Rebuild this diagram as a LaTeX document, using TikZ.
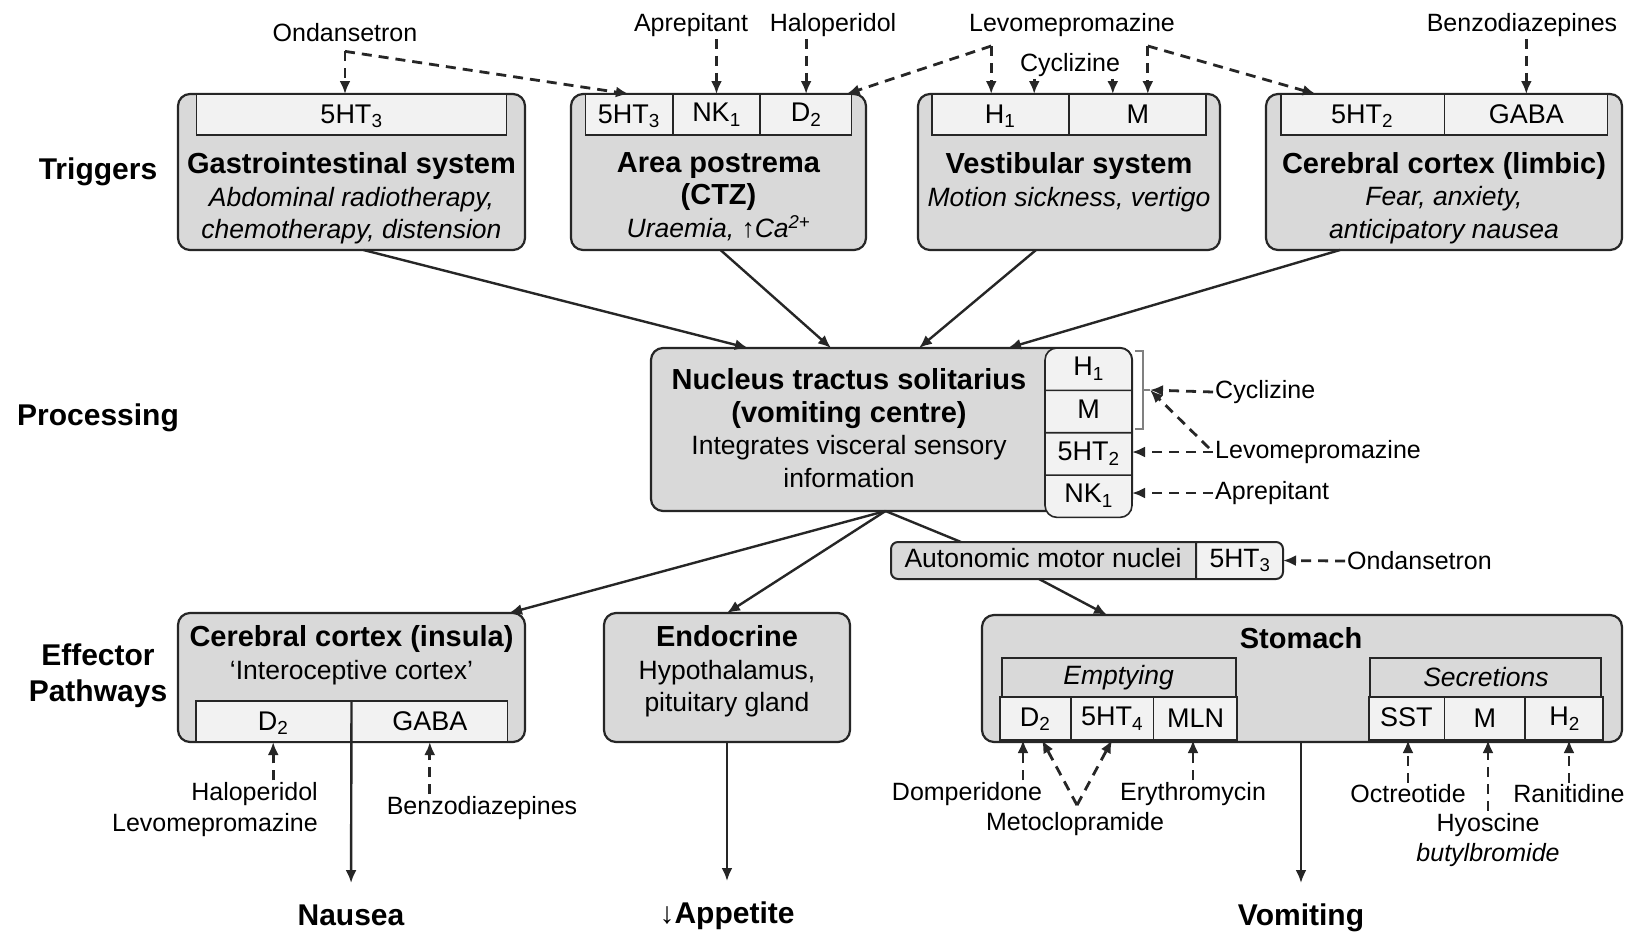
\documentclass[tikz,border=0pt]{standalone}
\usepackage{fontspec}
\setmainfont{Liberation Sans}
\usetikzlibrary{shapes,positioning,calc,arrows.meta}
\colorlet{boxgray}{gray!30}
\colorlet{cellgray}{gray!10}
\newcommand{\ttlfont}{\fontsize{29}{32.5}\selectfont\bfseries}
\newcommand{\txtfont}{\fontsize{26.5}{32.5}\selectfont}
\newcommand{\recfont}{\fontsize{27}{32}\selectfont}
\newcommand{\drgfont}{\fontsize{25}{30.5}\selectfont}
\newcommand{\catfont}{\fontsize{30}{36}\selectfont\bfseries}
\newcommand{\cellbox}[2]{\makebox[#1pt]{#2}}
\newcommand{\rowstrut}{\rule[-13.75pt]{0pt}{40.75pt}}

\begin{document}
\begin{tikzpicture}
  [x=1pt, y=-1pt,
   >={Latex[length=13pt,width=11pt]},
   box/.style={
     draw=black!85,
     line width=2.2pt,
     fill=boxgray,
     rounded corners=12pt,
     inner sep=0pt,
     outer sep=0pt
     },
   relation/.style={
     rectangle split,
     rectangle split parts=#1,
     rectangle split horizontal,
     draw=black!85,
     line width=1.6pt,
     fill=cellgray,
     inner xsep=0pt,
     inner ysep=0pt,
     outer sep=0pt,
     text height=29pt,
     text depth=12pt,
     font=\recfont
     },
   header/.style={
     draw=black!85,
     line width=2pt,
     fill=boxgray,
     inner sep=0pt,
     outer sep=0pt,
     minimum height=39pt,
     font=\txtfont\itshape
     },
   flow/.style={->, line width=2.4pt, black!85},
   drug/.style={->, line width=2.8pt, black!85, dash pattern=on 10pt off 7pt},
   drugname/.style={font=\drgfont, inner sep=2pt},
   stage/.style={font=\catfont, align=center},
   outcome/.style={font=\catfont, text height=22pt, text depth=6pt, inner ysep=0pt, anchor=north}
  ]
  \fill[white] (0,0) rectangle (1629,932);
  \useasboundingbox (0,0) rectangle (1629,932);

  \node[stage] (triggers)   at (98,172) {Triggers};
  \node[stage] (processing) at (98,418) {Processing};
  \node[stage] (effector)   at (98,676) {Effector\\Pathways};

  % triggers
  \node[box, minimum width=347pt, minimum height=156pt, anchor=north] (gibox)     at (351.5,94) {};
  \node[box, minimum width=295pt, minimum height=156pt, anchor=north] (apbox)     at (718.5,94) {};
  \node[box, minimum width=302pt, minimum height=156pt, anchor=north] (vestbox)   at (1069,94) {};
  \node[box, minimum width=356pt, minimum height=156pt, anchor=north] (limbicbox) at (1444,94) {};

  \node[relation=1, anchor=north] (gibar) at (gibox.north)
    {\cellbox{310}{5HT\textsubscript{3}}};
  \node[relation=3, anchor=north] (apbar) at (apbox.north)
    {\nodepart{one}\cellbox{87}{5HT\textsubscript{3}}%
     \nodepart{two}\cellbox{85}{NK\textsubscript{1}}%
     \nodepart{three}\cellbox{91}{D\textsubscript{2}}};
  \node[relation=2, anchor=north] (vestbar) at (vestbox.north)
    {\nodepart{one}\cellbox{136}{H\textsubscript{1}}%
     \nodepart{two}\cellbox{136}{M}};
  \node[relation=2, anchor=north] (limbicbar) at (limbicbox.north)
    {\nodepart{one}\cellbox{163}{5HT\textsubscript{2}}%
     \nodepart{two}\cellbox{162}{GABA}};

  \node[align=center, font=\txtfont] (gitext) at (351.5,198.5)
    {{\ttlfont Gastrointestinal system}\\\textit{Abdominal radiotherapy,}\\\textit{chemotherapy, distension}};
  \node[align=center, font=\txtfont] (aptext) at (718.5,196.5)
    {{\ttlfont Area postrema}\\{\ttlfont (CTZ)}\\\textit{Uraemia, }↑\textit{Ca}\textsuperscript{\itshape 2+}};
  \node[align=center, font=\txtfont] (vesttext) at (1069,182)
    {{\ttlfont Vestibular system}\\\textit{Motion sickness, vertigo}};
  \node[align=center, font=\txtfont] (limbictext) at (1444,198)
    {{\ttlfont Cerebral cortex (limbic)}\\\textit{Fear, anxiety,}\\\textit{anticipatory nausea}};

  \node[drugname] (ondT)    at (345,33)   {Ondansetron};
  \node[drugname] (aprT)    at (691,25)   {Aprepitant};
  \node[drugname] (haloT)   at (833,25)   {Haloperidol};
  \node[drugname] (levoT)   at (1072,25)  {Levomepromazine};
  \node[drugname] (cycT)    at (1070,65)  {Cyclizine};
  \node[drugname] (benzoT)  at (1522,25)  {Benzodiazepines};

  \coordinate (ondc) at ($(ondT.south)+(0,7)$);
  \coordinate (levL) at ($(vestbar.one north)+(-9,-48)$);
  \coordinate (levR) at ($(vestbar.two north)+(10,-48)$);

  \draw[drug] (ondc) -- (ondc |- gibar.north);
  \draw[drug] (ondc) -- (apbar.one north);
  \draw[drug] (apbar.two north |- aprT.south) -- (apbar.two north);
  \draw[drug] (apbar.three north |- haloT.south) -- (apbar.three north);
  \draw[drug] (levL) -- (levL |- vestbar.north);
  \draw[drug] (levL) -- ([xshift=-5pt]apbar.north east);
  \draw[drug] (levR) -- (levR |- vestbar.north);
  \draw[drug] (levR) -- ([xshift=35pt]limbicbar.north west);
  \draw[drug] ([xshift=34pt]vestbar.one north |- cycT.south) -- ([xshift=34pt]vestbar.one north);
  \draw[drug] ([xshift=-25pt]vestbar.two north |- cycT.south) -- ([xshift=-25pt]vestbar.two north);
  \draw[drug] (limbicbar.two north |- benzoT.south) -- (limbicbar.two north);

  % processing
  \node[box, minimum width=481pt, minimum height=163pt, anchor=north west] (nts) at (651,348) {};
  \node[relation=4, rectangle split horizontal=false, rounded corners=12pt,
        text height=27pt, text depth=13.75pt, anchor=north east] (ntsrec) at (nts.north east)
    {\nodepart{one}\cellbox{87}{\rowstrut H\textsubscript{1}}%
     \nodepart{two}\cellbox{87}{\rowstrut M}%
     \nodepart{three}\cellbox{87}{\rowstrut 5HT\textsubscript{2}}%
     \nodepart{four}\cellbox{87}{\rowstrut NK\textsubscript{1}}};
  \node[align=center, font=\txtfont] (ntstext) at (849,428)
    {{\ttlfont Nucleus tractus solitarius}\\{\ttlfont (vomiting centre)}\\Integrates visceral sensory\\information};

  \draw[gray, line width=1.2pt] ($(ntsrec.north east)+(3,3)$) -- ++(8,0) -- ++(0,78) -- ++(-8,0);
  \draw[gray, line width=1.2pt] ($(ntsrec.north east)+(11,42)$) -- ++(7,0) coordinate (brk);

  \node[drugname, anchor=west] (cycR)  at (1213,392) {Cyclizine};
  \node[drugname, anchor=west] (levoR) at (1213,452) {Levomepromazine};
  \node[drugname, anchor=west] (apreR) at (1213,493) {Aprepitant};

  \draw[drug] (cycR.west) -- (brk);
  \draw[drug] ([xshift=-4pt,yshift=4pt]levoR.west) -- (brk);
  \draw[drug] (levoR.west) -- (levoR.west -| ntsrec.east);
  \draw[drug] (apreR.west) -- (apreR.west -| ntsrec.east);

  \node[relation=2, fill=none, rectangle split part fill={boxgray,cellgray},
        rounded corners=7pt, line width=2pt, text height=25pt, text depth=12pt,
        font=\txtfont, anchor=north west] (amn) at (891,542)
    {\nodepart{one}\cellbox{304}{Autonomic motor nuclei}%
     \nodepart{two}\cellbox{86}{5HT\textsubscript{3}}};
  \node[drugname, anchor=west] (ondR) at (1345,561) {Ondansetron};
  \draw[drug] (ondR.west) -- (amn.east);

  \draw[flow] ([xshift=12pt]gibox.south) -- ($(nts.north west)+(97,0)$);
  \draw[flow] ([xshift=2pt]apbox.south) -- ($(nts.north west)+(180,0)$);
  \draw[flow] ([xshift=-33pt]vestbox.south) -- ($(nts.north west)+(268,0)$);
  \draw[flow] ([xshift=-104pt]limbicbox.south) -- ($(nts.north west)+(357,0)$);

  % effector pathways
  \node[box, minimum width=347pt, minimum height=129pt, anchor=north] (insula) at (351.5,613) {};
  \node[relation=2, anchor=south] (insulabar) at (insula.south)
    {\nodepart{one}\cellbox{155}{D\textsubscript{2}}%
     \nodepart{two}\cellbox{155}{GABA}};
  \node[align=center, font=\txtfont] (insulatext) at (351.5,655)
    {{\ttlfont Cerebral cortex (insula)}\\‘Interoceptive cortex’};

  \node[box, minimum width=246pt, minimum height=129pt, anchor=north] (endo) at (727,613) {};
  \node[align=center, font=\txtfont] (endotext) at (727,671.5)
    {{\ttlfont Endocrine}\\Hypothalamus,\\pituitary gland};

  \node[box, minimum width=640pt, minimum height=127pt, anchor=north west] (stomach) at (982,615) {};
  \node[font=\ttlfont] (stomachtitle) at (1301,638) {Stomach};
  \node[relation=3, anchor=south west, text depth=14pt] (empcells) at ($(stomach.south west)+(18,-2)$)
    {\nodepart{one}\cellbox{70}{D\textsubscript{2}}%
     \nodepart{two}\cellbox{81}{5HT\textsubscript{4}}%
     \nodepart{three}\cellbox{83}{MLN}};
  \node[header, minimum width=234pt, above=0pt of empcells] (emphead) {Emptying};
  \node[relation=3, anchor=south east, text depth=14pt] (seccells) at ($(stomach.south east)+(-19,-2)$)
    {\nodepart{one}\cellbox{75}{SST}%
     \nodepart{two}\cellbox{79}{M}%
     \nodepart{three}\cellbox{77}{H\textsubscript{2}}};
  \node[header, minimum width=231pt, above=0pt of seccells] (sechead) {Secretions};

  \coordinate (ntsout) at ([xshift=-6pt]nts.south);
  \draw[flow] (ntsout) -- ([xshift=-16pt]insula.north east);
  \draw[flow] (ntsout) -- (endo.north);
  \draw[flow, -] (ntsout) -- ($(amn.north west)+(70,0)$);
  \draw[flow] ($(amn.south west)+(148,0)$) -- ($(stomach.north west)+(125,0)$);

  \node[drugname, align=right, anchor=east] (haloins) at (320,809.5) {Haloperidol\\Levomepromazine};
  \node[drugname] (benzoins) at (482,808) {Benzodiazepines};
  \draw[drug] (insulabar.one south |- haloins.north) -- (insulabar.one south);
  \draw[drug] (insulabar.two south |- benzoins.north) -- (insulabar.two south);

  \node[drugname] (domp)    at (967,794)  {Domperidone};
  \node[drugname] (meto)    at (1075,824) {Metoclopramide};
  \node[drugname] (erythro) at (1193,794) {Erythromycin};
  \node[drugname] (octreo)  at (1408,794) {Octreotide};
  \node[drugname, align=center] (hyos) at (1488,840) {Hyoscine\\\textit{butylbromide}};
  \node[drugname] (ranit)   at (1569,794) {Ranitidine};
  \coordinate (metov) at ($(meto.north)+(2,-5)$);

  \draw[drug] ([xshift=-12pt]empcells.one south |- domp.north) -- ([xshift=-12pt]empcells.one south);
  \draw[drug] (metov) -- ([xshift=7pt]empcells.one south);
  \draw[drug] (metov) -- (empcells.two south);
  \draw[drug] (erythro.north) -- (erythro.north |- empcells.south);
  \draw[drug] (octreo.north) -- (octreo.north |- seccells.south);
  \draw[drug] (hyos.north) -- (hyos.north |- seccells.south);
  \draw[drug] (ranit.north) -- (ranit.north |- seccells.south);

  \node[outcome] (nausea)   at (351,903) {Nausea};
  \node[outcome] (appetite) at (727,901) {↓Appetite};
  \node[outcome] (vomiting) at (1301,903) {Vomiting};
  \draw[flow, shorten >=20pt] (insulabar.north) -- (nausea.north);
  \draw[flow, shorten >=20pt] (endo.south) -- (appetite.north);
  \draw[flow, shorten >=20pt] (stomach.south -| vomiting.north) -- (vomiting.north);
\end{tikzpicture}
\end{document}
